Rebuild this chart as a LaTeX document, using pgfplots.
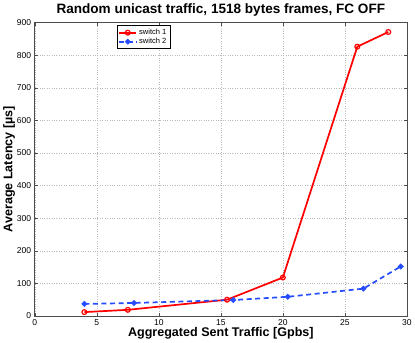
\documentclass[border=0pt]{standalone}
\usepackage{pgfplots}
\pgfplotsset{compat=1.18}
\usepackage{fontspec}
\setmainfont{Liberation Sans}
\definecolor{mblue}{rgb}{0.15,0.3,1}
\begin{document}
\begin{tikzpicture}
\begin{axis}[
    scale only axis,
    width=369bp, height=291bp,
    xmin=0, xmax=30,
    ymin=0, ymax=900,
    xtick={0,5,10,15,20,25,30},
    ytick={0,100,200,300,400,500,600,700,800,900},
    title={\bfseries Random unicast traffic, 1518 bytes frames, FC OFF},
    title style={font=\fontsize{13.5}{15}\selectfont, yshift=-3bp},
    xlabel={\bfseries Aggregated Sent Traffic [Gpbs]},
    ylabel={\bfseries Average Latency [µs]},
    label style={font=\fontsize{12.5}{14}\selectfont},
    xlabel style={yshift=5bp},
    ylabel style={yshift=-5bp},
    tick label style={font=\fontsize{8.5}{10}\selectfont},
    /pgf/number format/assume math mode=true,
    grid=major,
    grid style={dotted, line width=0.4pt, gray!55},
    axis line style={gray!60!black, line width=0.7pt},
    tick align=inside,
    major tick length=3bp,
    tick style={gray!60!black},
    legend style={at={(0.22,0.99)}, anchor=north west,
        font=\fontsize{7.5}{8.5}\selectfont, draw=black,
        inner sep=1.5pt, row sep=-2pt},
    legend cell align=left,
]
\addplot[color=red, line width=1.7pt, mark=o, mark size=2.4pt, mark options={solid, line width=1.2pt}]
    coordinates {
    (4,12)(7.5,19)(15.5,50)(20,118)(26,826)(28.5,871)
    };
\addplot[color=mblue, line width=1.7pt, dash pattern=on 5pt off 3.5pt, mark=*, mark size=1.9pt, mark options={solid}]
    coordinates {
    (4,37)(8,40)(16,49)(20.4,59)(26.5,84)(29.5,152)
    };
\legend{switch 1, switch 2}
\end{axis}
\end{tikzpicture}
\end{document}
